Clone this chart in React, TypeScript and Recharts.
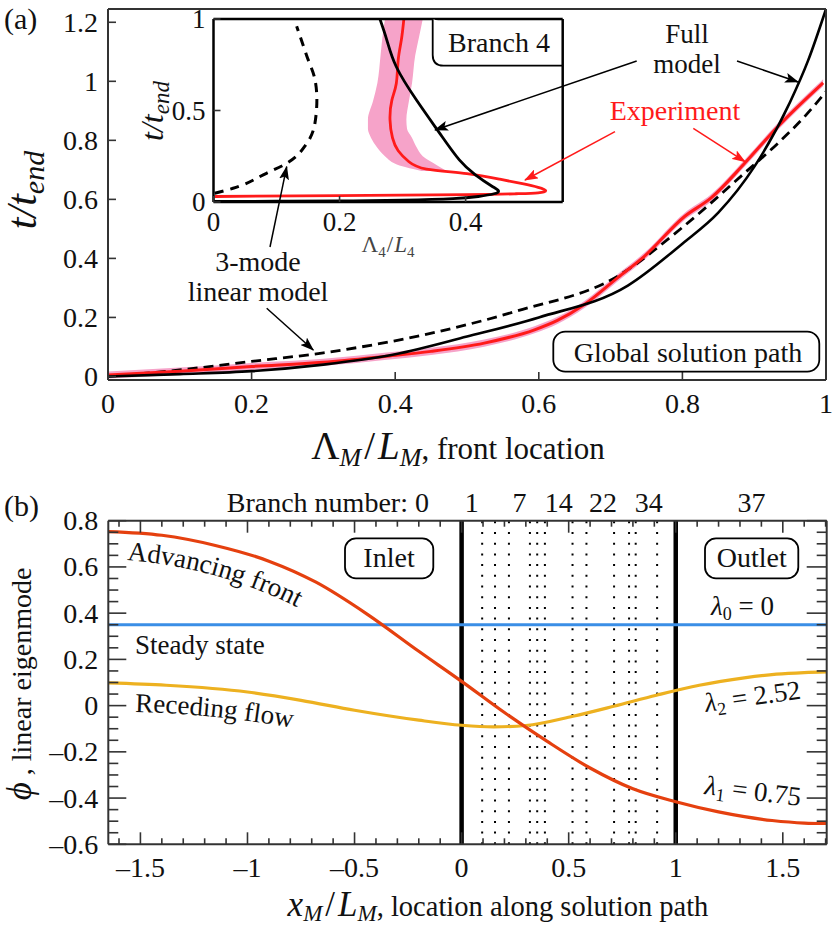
import React from 'react';
import { ComposedChart, Line, Area, XAxis, YAxis, ReferenceLine } from 'recharts';

const SERIF = 'Liberation Serif, Times New Roman, Times, serif';
const FRAME = '#333';
const RED = '#ff1a1a';
const PINK = '#f6a3c9';
const M_RED = '#e5400f';
const M_YEL = '#edb120';
const M_BLUE = '#3a8ee6';

// ---- panel (a): global solution path ----
const fullX = [0, 0.1, 0.2, 0.3, 0.4, 0.5, 0.6, 0.724, 0.8, 0.85, 0.9, 0.95, 0.975, 1.0];
const fullT = [0, 0.008, 0.018, 0.04, 0.075, 0.135, 0.2, 0.308, 0.45, 0.555, 0.71, 0.93, 1.07, 1.245];
const linX = [0, 0.1, 0.2, 0.3, 0.43, 0.57, 0.71, 0.8, 0.887, 0.933, 0.97, 1.0];
const linT = [0, 0.022, 0.051, 0.08, 0.136, 0.222, 0.34, 0.505, 0.69, 0.79, 0.88, 0.965];
const expX = [0, 0.1, 0.2, 0.3, 0.385, 0.45, 0.524, 0.594, 0.626, 0.663, 0.71, 0.747, 0.803, 0.84, 0.887, 0.933, 0.996];
const expT = [0.005, 0.018, 0.034, 0.048, 0.068, 0.085, 0.113, 0.158, 0.19, 0.243, 0.335, 0.407, 0.542, 0.605, 0.723, 0.847, 0.995];
const expHalfBand = 0.012;
const aTicksX = [0, 0.2, 0.4, 0.6, 0.8, 1];
const aTicksY = [0, 0.2, 0.4, 0.6, 0.8, 1, 1.2];

// ---- inset: branch 4 (t, x) ----
const inLinT = [0.048, 0.075, 0.157, 0.211, 0.32, 0.432, 0.56, 0.669, 0.798, 0.96];
const inLinX = [0.002, 0.031, 0.084, 0.116, 0.148, 0.161, 0.164, 0.161, 0.148, 0.132];
const inFullX = [0, 0.1, 0.2, 0.3, 0.38, 0.42, 0.445, 0.452, 0.44, 0.415, 0.39, 0.359, 0.322, 0.29, 0.275, 0.264];
const inFullT = [0.003, 0.004, 0.006, 0.01, 0.018, 0.03, 0.045, 0.062, 0.09, 0.15, 0.23, 0.375, 0.557, 0.739, 0.885, 1.0];
const inExpX = [0.002, 0.2, 0.4, 0.48, 0.515, 0.527, 0.515, 0.49, 0.454, 0.402, 0.338, 0.31, 0.293, 0.284, 0.28, 0.283, 0.29, 0.293, 0.298, 0.302];
const inExpT = [0.03, 0.035, 0.04, 0.045, 0.05, 0.062, 0.08, 0.1, 0.125, 0.155, 0.18, 0.22, 0.28, 0.35, 0.45, 0.557, 0.648, 0.776, 0.885, 1.0];
const bandT = [0.17, 0.2, 0.25, 0.3, 0.35, 0.4, 0.45, 0.55, 0.65, 0.8, 0.9, 1.0];
const bandLo = [0.33, 0.295, 0.272, 0.259, 0.25, 0.245, 0.245, 0.253, 0.26, 0.265, 0.268, 0.272];
const bandHi = [0.37, 0.355, 0.332, 0.322, 0.315, 0.307, 0.306, 0.31, 0.315, 0.32, 0.326, 0.332];

// ---- panel (b): linear eigenmodes ----
const advX = [-1.65, -1.4, -1.15, -0.9, -0.68, -0.44, -0.2, 0, 0.2, 0.4, 0.6, 0.8, 1.0, 1.2, 1.45, 1.6, 1.705];
const advPhi = [0.753, 0.737, 0.693, 0.625, 0.534, 0.395, 0.235, 0.105, -0.03, -0.155, -0.27, -0.36, -0.416, -0.46, -0.497, -0.508, -0.51];
const recX = [-1.65, -1.38, -1.0, -0.75, -0.5, -0.2, 0, 0.15, 0.3, 0.52, 0.71, 0.91, 1.11, 1.32, 1.47, 1.6, 1.705];
const recPhi = [0.098, 0.088, 0.059, 0.023, -0.02, -0.063, -0.085, -0.092, -0.086, -0.046, -0.003, 0.045, 0.088, 0.12, 0.136, 0.143, 0.146];
const steadyX = [-1.65, 1.705];
const steadyPhi = [0.35, 0.35];
const junctionX = [0.096, 0.156, 0.221, 0.319, 0.353, 0.389, 0.518, 0.583, 0.712, 0.782, 0.813, 0.913];
const branchX = [-0.19, 0.047, 0.27, 0.454, 0.66, 0.874, 1.354];
const branchLabels = ['Branch number: 0', '1', '7', '14', '22', '34', '37'];
const bMajorX = [-1.5, -1, -0.5, 0, 0.5, 1, 1.5];
const bMajorY = [-0.6, -0.4, -0.2, 0, 0.2, 0.4, 0.6, 0.8];

const steps = (a: number, b: number, s: number) => {
  const out: number[] = [];
  for (let i = Math.round(a / s); i <= Math.round(b / s); i++) out.push(+(i * s).toFixed(2));
  return out;
};
const bMinorX = steps(-1.6, 1.7, 0.1);
const bMinorY = steps(-0.6, 0.8, 0.05);
const topTicksB = [...bMinorX, ...branchX].sort((a, b) => a - b);

const zip = (xs: number[], ys: number[], kx: string, ky: string) =>
  xs.map((v, i) => ({ [kx]: v, [ky]: ys[i] }));

const fullData = zip(fullX, fullT, 'x', 't');
const linData = zip(linX, linT, 'x', 't');
const expData = zip(expX, expT, 'x', 't');
const expBand = expX.map((x, i) => ({ x, band: [expT[i] - expHalfBand, expT[i] + expHalfBand] }));
const inLinData = zip(inLinT, inLinX, 't', 'x');
const inFullData = zip(inFullT, inFullX, 't', 'x');
const inExpData = zip(inExpT, inExpX, 't', 'x');
const inBand = bandT.map((t, i) => ({ t, band: [bandLo[i], bandHi[i]] }));
const advData = zip(advX, advPhi, 'x', 'phi');
const recData = zip(recX, recPhi, 'x', 'phi');
const steadyData = zip(steadyX, steadyPhi, 'x', 'phi');

const fmt = (v: number) => (v < 0 ? '\u2013' + String(Math.abs(v)) : String(v));
const near = (arr: number[], v: number) => arr.some((m) => Math.abs(m - v) < 1e-6);

type Side = 'left' | 'right' | 'top' | 'bottom';
function makeTick(side: Side, major: number[], majorLen: number, minorLen: number, opts: { fs?: number; off?: number; labels?: boolean; color?: string } = {}) {
  const { fs = 28, off = 10, labels = true, color = FRAME } = opts;
  return (props: any) => {
    const { x, y, payload } = props;
    const v = payload.value;
    const isMajor = near(major, v);
    const len = isMajor ? majorLen : minorLen;
    let x2 = x, y2 = y;
    if (side === 'bottom') y2 = y - len;
    if (side === 'top') y2 = y + len;
    if (side === 'left') x2 = x + len;
    if (side === 'right') x2 = x - len;
    let label = null;
    if (labels && isMajor) {
      if (side === 'bottom')
        label = <text x={x} y={y + off} textAnchor="middle" fontSize={fs} fontFamily={SERIF} fill="#111">{fmt(v)}</text>;
      if (side === 'left')
        label = <text x={x - off} y={y + fs * 0.34} textAnchor="end" fontSize={fs} fontFamily={SERIF} fill="#111">{fmt(v)}</text>;
    }
    return (
      <g>
        {len > 0 && <line x1={x} y1={y} x2={x2} y2={y2} stroke={color} strokeWidth={1.6} />}
        {label}
      </g>
    );
  };
}

const topBranchTick = (props: any) => {
  const { x, y, payload } = props;
  const v = payload.value;
  const bi = branchX.findIndex((b) => Math.abs(b - v) < 1e-6);
  if (bi >= 0) {
    const first = bi === 0;
    return (
      <text x={first ? x + 8 : x} y={y - 9} textAnchor={first ? 'end' : 'middle'} fontSize={28} fontFamily={SERIF} fill="#111">
        {branchLabels[bi]}
      </text>
    );
  }
  const len = near(bMajorX, v) ? 12 : 6;
  return <line x1={x} y1={y} x2={x} y2={y + len} stroke={FRAME} strokeWidth={1.6} />;
};

const axisLine = { stroke: FRAME, strokeWidth: 2 };
const insetAxisLine = { stroke: '#000', strokeWidth: 2.5 };
const noDot = { dot: false as const, activeDot: false as const, isAnimationActive: false };
const txt = { fontFamily: SERIF, fill: '#111', fontWeight: 400 as const };

export default function App() {
  return (
    <div style={{ position: 'absolute', left: 0, top: 0, width: 832, height: 925, background: '#fff', fontFamily: SERIF }}>
      {/* (a) main panel */}
      <div style={{ position: 'absolute', left: 0, top: 0 }}>
        <ComposedChart width={832} height={470} margin={{ top: 0, right: 0, bottom: 0, left: 0 }}>
          <XAxis type="number" dataKey="x" domain={[0, 1]} ticks={aTicksX} interval={0} height={90} tickSize={0} tickMargin={0} tickLine={false}
            tick={makeTick('bottom', aTicksX, 8, 0, { fs: 28, off: 33 })} axisLine={axisLine} allowDataOverflow />
          <YAxis type="number" domain={[-0.012, 1.245]} ticks={aTicksY} interval={0} width={108} tickSize={0} tickMargin={0} tickLine={false}
            tick={makeTick('left', aTicksY, 8, 0, { fs: 28, off: 10 })} axisLine={axisLine} allowDataOverflow />
          <XAxis xAxisId="top" orientation="top" type="number" domain={[0, 1]} height={9} tick={false} tickLine={false} axisLine={axisLine} allowDataOverflow />
          <YAxis yAxisId="right" orientation="right" type="number" domain={[-0.012, 1.245]} width={6} tick={false} tickLine={false} axisLine={axisLine} allowDataOverflow />
          <Line xAxisId="top" yAxisId="right" data={fullData} dataKey="t" stroke="none" {...noDot} />
          <Area data={expBand} dataKey="band" type="monotone" stroke="none" fill={PINK} fillOpacity={1} {...noDot} />
          <Line data={linData} dataKey="t" type="monotone" stroke="#000" strokeWidth={2.8} strokeDasharray="10 6" {...noDot} />
          <Line data={expData} dataKey="t" type="monotone" stroke={RED} strokeWidth={3} {...noDot} />
          <Line data={fullData} dataKey="t" type="monotone" stroke="#000" strokeWidth={2.6} {...noDot} />
        </ComposedChart>
      </div>

      {/* (a) inset: branch 4 */}
      <div style={{ position: 'absolute', left: 0, top: 0 }}>
        <ComposedChart layout="vertical" width={600} height={250} margin={{ top: 0, right: 0, bottom: 0, left: 0 }}>
          <XAxis type="number" domain={[0, 0.554]} ticks={[0, 0.2, 0.4]} interval={0} height={48} tickSize={0} tickMargin={0} tickLine={false}
            tick={makeTick('bottom', [0, 0.2, 0.4], 6, 0, { fs: 27, off: 29 })} axisLine={insetAxisLine} allowDataOverflow />
          <YAxis type="number" dataKey="t" reversed domain={[0, 1]} ticks={[0, 0.5, 1]} interval={0} width={213.5} tickSize={0} tickMargin={0} tickLine={false}
            tick={makeTick('left', [0, 0.5, 1], 7, 0, { fs: 27, off: 8 })} axisLine={insetAxisLine} allowDataOverflow />
          <XAxis xAxisId="top" orientation="top" type="number" domain={[0, 0.554]} height={19} tick={false} tickLine={false} axisLine={insetAxisLine} allowDataOverflow />
          <YAxis yAxisId="right" orientation="right" type="number" dataKey="t" reversed domain={[0, 1]} width={37.3} tick={false} tickLine={false} axisLine={insetAxisLine} allowDataOverflow />
          <Line xAxisId="top" yAxisId="right" data={inFullData} dataKey="x" stroke="none" {...noDot} />
          <Area data={inBand} dataKey="band" type="monotone" stroke="none" fill={PINK} fillOpacity={1} {...noDot} />
          <Line data={inLinData} dataKey="x" type="monotone" stroke="#000" strokeWidth={3} strokeDasharray="9 7" {...noDot} />
          <Line data={inExpData} dataKey="x" type="natural" stroke={RED} strokeWidth={2.8} {...noDot} />
          <Line data={inFullData} dataKey="x" type="natural" stroke="#000" strokeWidth={2.8} {...noDot} />
        </ComposedChart>
      </div>

      {/* (b) eigenmodes */}
      <div style={{ position: 'absolute', left: 0, top: 470 }}>
        <ComposedChart width={832} height={455} margin={{ top: 0, right: 0, bottom: 0, left: 0 }}>
          <XAxis type="number" dataKey="x" domain={[-1.65, 1.705]} ticks={bMinorX} interval={0} height={80.7} tickSize={0} tickMargin={0} tickLine={false}
            tick={makeTick('bottom', bMajorX, 12, 6, { fs: 28, off: 33 })} axisLine={axisLine} allowDataOverflow />
          <YAxis type="number" domain={[-0.6, 0.8]} ticks={bMinorY} interval={0} width={108.3} tickSize={0} tickMargin={0} tickLine={false}
            tick={makeTick('left', bMajorY, 18, 10, { fs: 28, off: 10 })} axisLine={axisLine} allowDataOverflow />
          <XAxis xAxisId="top" orientation="top" type="number" dataKey="x" domain={[-1.65, 1.705]} ticks={topTicksB} interval={0} height={50.7}
            tickSize={0} tickMargin={0} tickLine={false} tick={topBranchTick} axisLine={axisLine} allowDataOverflow />
          <YAxis yAxisId="right" orientation="right" type="number" domain={[-0.6, 0.8]} ticks={bMinorY} interval={0} width={5.3} tickSize={0} tickMargin={0}
            tickLine={false} tick={makeTick('right', bMajorY, 20, 10, { labels: false })} axisLine={axisLine} allowDataOverflow />
          <Line xAxisId="top" yAxisId="right" data={steadyData} dataKey="phi" stroke="none" {...noDot} />
          {junctionX.map((v) => (
            <ReferenceLine key={v} x={v} stroke="#000" strokeWidth={2} strokeDasharray="2 8.7" />
          ))}
          <ReferenceLine x={0} stroke="#000" strokeWidth={4.5} />
          <ReferenceLine x={1} stroke="#000" strokeWidth={4.5} />
          <Line data={steadyData} dataKey="phi" type="linear" stroke={M_BLUE} strokeWidth={3} {...noDot} />
          <Line data={recData} dataKey="phi" type="monotone" stroke={M_YEL} strokeWidth={3.2} {...noDot} />
          <Line data={advData} dataKey="phi" type="monotone" stroke={M_RED} strokeWidth={3.2} {...noDot} />
        </ComposedChart>
      </div>

      {/* annotations */}
      <svg width={832} height={925} style={{ position: 'absolute', left: 0, top: 0, pointerEvents: 'none' }} fontFamily={SERIF}>
        <defs>
          <marker id="ahk" viewBox="0 0 14 10" refX="13" refY="5" markerWidth="14" markerHeight="10" markerUnits="userSpaceOnUse" orient="auto">
            <path d="M0,0 L14,5 L0,10 L3,5 z" fill="#000" />
          </marker>
          <marker id="ahr" viewBox="0 0 14 10" refX="13" refY="5" markerWidth="14" markerHeight="10" markerUnits="userSpaceOnUse" orient="auto">
            <path d="M0,0 L14,5 L0,10 L3,5 z" fill={RED} />
          </marker>
          <path id="advPath" d="M127,560 Q225,568 310,614" />
          <path id="recPath" d="M135,712 Q220,714 305,730" />
        </defs>

        <text x={4} y={29} fontSize={30} {...txt}>(a)</text>
        <text x={4} y={516} fontSize={30} {...txt}>(b)</text>

        {/* axis titles (a) */}
        <text transform="translate(36,190) rotate(-90)" textAnchor="middle" fontSize={42} fontStyle="italic" {...txt}>
          t/t<tspan fontSize={30} dy={8}>end</tspan>
        </text>
        <text x={458} y={459} textAnchor="middle" fontSize={31} {...txt}>
          <tspan fontSize={39}>Λ</tspan><tspan fontSize={26} fontStyle="italic" dy={7}>M</tspan>
          <tspan fontSize={39} dy={-7} dx={3}>/</tspan><tspan fontSize={39} fontStyle="italic" dx={3}>L</tspan>
          <tspan fontSize={26} fontStyle="italic" dy={7}>M</tspan><tspan dy={-7}>, front location</tspan>
        </text>

        {/* inset titles */}
        <text transform="translate(163,111) rotate(-90)" textAnchor="middle" fontSize={32} fontStyle="italic" {...txt}>
          t/t<tspan fontSize={23} dy={6}>end</tspan>
        </text>
        <text x={388} y={252} textAnchor="middle" fontSize={23} {...txt} fill="#444">
          Λ<tspan fontSize={15} dy={5}>4</tspan><tspan dy={-5} dx={1}>/</tspan><tspan fontStyle="italic" dx={1}>L</tspan><tspan fontSize={15} dy={5}>4</tspan>
        </text>

        {/* Branch 4 box */}
        <path d="M432.7,19 L432.7,55 Q432.7,65.7 443.4,65.7 L562.7,65.7" fill="#fff" stroke="#000" strokeWidth={1.8} />
        <text x={499} y={52} textAnchor="middle" fontSize={28} {...txt}>Branch 4</text>

        {/* Full model */}
        <text x={687} y={43} textAnchor="middle" fontSize={27} {...txt}>Full</text>
        <text x={687} y={73} textAnchor="middle" fontSize={27} {...txt}>model</text>
        <line x1={636.7} y1={61} x2={435} y2={130} stroke="#000" strokeWidth={1.5} markerEnd="url(#ahk)" />
        <line x1={737} y1={61} x2={798} y2={82} stroke="#000" strokeWidth={1.5} markerEnd="url(#ahk)" />

        {/* Experiment */}
        <text x={675} y={120} textAnchor="middle" fontSize={28} {...txt} fill={RED}>Experiment</text>
        <line x1={615} y1={131.7} x2={525} y2={180} stroke={RED} strokeWidth={1.5} markerEnd="url(#ahr)" />
        <line x1={693.3} y1={128.3} x2={745} y2={161.7} stroke={RED} strokeWidth={1.5} markerEnd="url(#ahr)" />

        {/* 3-mode linear model */}
        <text x={258} y={271} textAnchor="middle" fontSize={28} {...txt}>3-mode</text>
        <text x={258} y={301} textAnchor="middle" fontSize={28} {...txt}>linear model</text>
        <line x1={270} y1={247} x2={286.7} y2={166.7} stroke="#000" strokeWidth={1.5} markerEnd="url(#ahk)" />
        <line x1={266.7} y1={308.3} x2={313.3} y2={350} stroke="#000" strokeWidth={1.5} markerEnd="url(#ahk)" />

        {/* Global solution path */}
        <rect x={553.3} y={331.7} width={266} height={40} rx={12} fill="#fff" stroke="#000" strokeWidth={1.8} />
        <text x={688} y={362} textAnchor="middle" fontSize={28} {...txt}>Global solution path</text>

        {/* axis titles (b) */}
        <text transform="translate(31,684) rotate(-90)" textAnchor="middle" fontSize={28} {...txt}>
          <tspan fontSize={35} fontStyle="italic">ϕ</tspan> , linear eigenmode
        </text>
        <text x={498} y={916} textAnchor="middle" fontSize={28.5} {...txt}>
          <tspan fontSize={35} fontStyle="italic">x</tspan><tspan fontSize={23} fontStyle="italic" dy={5}>M</tspan>
          <tspan fontSize={35} dy={-5} dx={3}>/</tspan><tspan fontSize={35} fontStyle="italic" dx={3}>L</tspan>
          <tspan fontSize={23} fontStyle="italic" dy={5}>M</tspan><tspan dy={-5}>, location along solution path</tspan>
        </text>

        {/* curve labels (b) */}
        <text fontSize={27} {...txt}><textPath href="#advPath">Advancing front</textPath></text>
        <text x={135} y={654} fontSize={27} {...txt}>Steady state</text>
        <text fontSize={27} {...txt}><textPath href="#recPath">Receding flow</textPath></text>

        <rect x={345} y={538.3} width={88.3} height={40} rx={11} fill="#fff" stroke="#000" strokeWidth={1.8} />
        <text x={389} y={567} textAnchor="middle" fontSize={28} {...txt}>Inlet</text>
        <rect x={705} y={538.3} width={93.3} height={40} rx={11} fill="#fff" stroke="#000" strokeWidth={1.8} />
        <text x={751.7} y={567} textAnchor="middle" fontSize={28} {...txt}>Outlet</text>

        <text x={711} y={615} fontSize={27} {...txt}>
          <tspan fontStyle="italic">λ</tspan><tspan fontSize={18} dy={5}>0</tspan><tspan dy={-5}> = 0</tspan>
        </text>
        <text x={706} y={712} fontSize={27} {...txt} transform="rotate(-8 706 712)">
          <tspan fontStyle="italic">λ</tspan><tspan fontSize={18} dy={5}>2</tspan><tspan dy={-5}> = 2.52</tspan>
        </text>
        <text x={704} y={794} fontSize={27} {...txt} transform="rotate(7 704 794)">
          <tspan fontStyle="italic">λ</tspan><tspan fontSize={18} dy={5}>1</tspan><tspan dy={-5}> = 0.75</tspan>
        </text>
      </svg>
    </div>
  );
}
